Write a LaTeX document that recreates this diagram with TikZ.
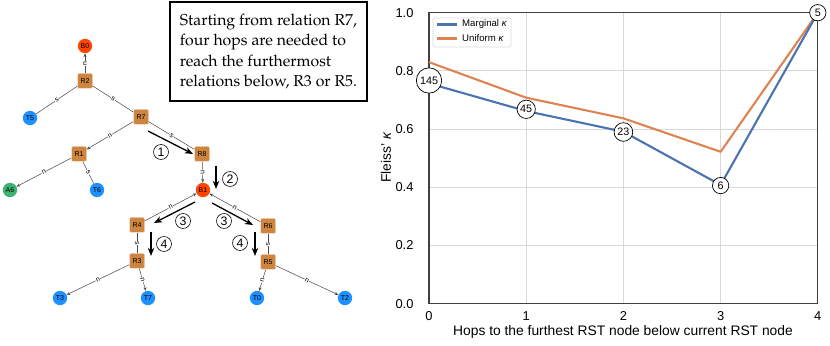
\documentclass[tikz,border=0pt]{standalone}
\usepackage{fontspec}
\setsansfont{Liberation Sans}
\usetikzlibrary{arrows.meta}

\definecolor{relfill}{HTML}{CD853F}
\definecolor{bfill}{HTML}{FF4500}
\definecolor{tfill}{HTML}{1E90FF}
\definecolor{afill}{HTML}{3CB371}
\definecolor{margblue}{HTML}{4C72B0}
\definecolor{uniforange}{HTML}{DD8452}

\tikzset{
  rel/.style={rectangle, rounded corners=1pt, fill=relfill, draw=white!85!relfill,
    line width=0.4pt, minimum size=4.5mm, inner sep=0pt, font=\sffamily\fontsize{6}{6}\selectfont},
  leaf/.style={circle, minimum size=4.3mm, inner sep=0pt, font=\sffamily\fontsize{6}{6}\selectfont},
  edge/.style={draw=black!70, line width=0.45pt},
  narrow/.style={-{Stealth[length=3.2pt,width=2.6pt]}},
  lab/.style={sloped, fill=white, inner sep=0.4pt, font=\sffamily\fontsize{6}{6}\selectfont},
  hop/.style={line width=1.1pt, -{Stealth[length=7pt,width=5.5pt]}},
  hopnum/.style={circle, draw, line width=0.5pt, minimum size=4.5mm, inner sep=0pt,
    font=\sffamily\fontsize{10.5}{10.5}\selectfont},
  grid/.style={draw=black!15, line width=0.7pt},
  tick/.style={font=\sffamily\fontsize{11}{11}\selectfont, inner sep=0pt},
  count/.style={circle, draw, fill=white, line width=0.6pt, inner sep=0pt,
    font=\sffamily\fontsize{9.2}{9.2}\selectfont},
  series/.style={line width=1.8pt, line join=round}
}

\begin{document}
\begin{tikzpicture}[x=0.3mm, y=-0.3mm]
\useasboundingbox (0,0) rectangle (830,346);

% tree
\node[leaf, fill=bfill] (B0) at (85,46) {B0};
\node[rel] (R2) at (85,81) {R2};
\node[leaf, fill=tfill] (T5) at (30,118) {T5};
\node[rel] (R7) at (141,117) {R7};
\node[rel] (R1) at (79,154) {R1};
\node[rel] (R8) at (202,154) {R8};
\node[leaf, fill=afill] (A6) at (10,190) {A6};
\node[leaf, fill=tfill] (T6) at (97,190) {T6};
\node[leaf, fill=bfill] (B1) at (203,190) {B1};
\node[rel] (R4) at (137,225) {R4};
\node[rel] (R6) at (268,226) {R6};
\node[rel] (R3) at (137,261) {R3};
\node[rel] (R5) at (268,262) {R5};
\node[leaf, fill=tfill] (T3) at (60,298) {T3};
\node[leaf, fill=tfill] (T7) at (148,298) {T7};
\node[leaf, fill=tfill] (T0) at (257,298) {T0};
\node[leaf, fill=tfill] (T2) at (345,298) {T2};

\foreach \a/\b in {R2/B0, R7/R1, R1/A6, R8/B1, R4/B1, R6/B1, R3/T3, R3/T7, R5/T0, R5/T2}
  \draw[edge, narrow] (\a) -- node[lab] {n} (\b);
\foreach \a/\b in {R2/T5, R2/R7, R7/R8, R1/T6, R4/R3, R6/R5}
  \draw[edge] (\a) -- node[lab] {s} (\b);

% hops
\coordinate (h1a) at (148,131); \coordinate (h1b) at (193,154);
\coordinate (h2a) at (216,166); \coordinate (h2b) at (216,189);
\coordinate (h3a) at (195,202); \coordinate (h3b) at (154,223);
\coordinate (h3c) at (212,203); \coordinate (h3d) at (253,225);
\coordinate (h4a) at (151,232); \coordinate (h4b) at (151,256);
\coordinate (h4c) at (255,232); \coordinate (h4d) at (255,256);
\draw[hop] (h1a) -- (h1b);
\draw[hop] (h2a) -- (h2b);
\draw[hop] (h3a) -- (h3b);
\draw[hop] (h3c) -- (h3d);
\draw[hop] (h4a) -- (h4b);
\draw[hop] (h4c) -- (h4d);
\node[hopnum] (n1) at (161,152) {1};
\node[hopnum] (n2) at (230,179) {2};
\node[hopnum] (n3a) at (183,221) {3};
\node[hopnum] (n3b) at (224,221) {3};
\node[hopnum] (n4a) at (164,244) {4};
\node[hopnum] (n4b) at (240,243) {4};

\node[draw, line width=0.9pt, minimum width=59.1mm, minimum height=29.7mm, align=left,
  font=\fontencoding{T1}\fontfamily{ppl}\fontsize{13.5}{17.5}\selectfont] (note) at (268.5,51.5)
  {Starting from relation R7,\\four hops are needed to\\reach the furthermost\\relations below, R3 or R5.};

% chart
\begin{scope}[xshift=128.7mm, yshift=-91.11mm, x=29.16mm, y=87.3mm]
\foreach \i in {1,2,3}
  \draw[grid] (\i,0) -- (\i,1);
\foreach \v in {0.2,0.4,0.6,0.8}
  \draw[grid] (0,\v) -- (4,\v);
\draw[line width=0.9pt, draw=black!75] (0,0) rectangle (4,1);
\foreach \i in {0,...,4}
  \node[tick, anchor=north] (xt\i) at ([yshift=-2.2mm]\i,0) {\i};
\foreach \v/\n in {0.0/0, 0.2/2, 0.4/4, 0.6/6, 0.8/8, 1.0/10}
  \node[tick, anchor=east] (yt\n) at ([xshift=-4.6mm]0,\v) {\v};
\draw[uniforange, series] (0,0.830) -- (1,0.708) -- (2,0.637) -- (3,0.522) -- (4,1.0);
\draw[margblue, series] (0,0.757) -- (1,0.662) -- (2,0.591) -- (3,0.408) -- (4,1.0);
\node[count, minimum size=7.6mm] (c0) at (0,0.767) {145};
\node[count, minimum size=5.5mm] (c1) at (1,0.668) {45};
\node[count, minimum size=5.6mm] (c2) at (2,0.590) {23};
\node[count, minimum size=4.9mm] (c3) at (3,0.406) {6};
\node[count, minimum size=4.9mm] (c4) at (4,1.0) {5};
\end{scope}

% legend
\draw[draw=black!15, fill=white, rounded corners=1pt, line width=0.5pt] (433,18) rectangle (511,47);
\draw[margblue, line width=1.8pt] (437,24.5) -- (457,24.5);
\draw[uniforange, line width=1.8pt] (437,38.5) -- (457,38.5);
\node[anchor=west, inner sep=0pt, font=\sffamily\fontsize{8.2}{8.2}\selectfont] (lm) at (462,24.5) {Marginal {\itshape κ}};
\node[anchor=west, inner sep=0pt, font=\sffamily\fontsize{8.2}{8.2}\selectfont] (lu) at (462,38.5) {Uniform {\itshape κ}};

% axis labels
\node[font=\sffamily\fontsize{11.8}{11.8}\selectfont] (xlab) at (623,332) {Hops to the furthest RST node below current RST node};
\node[rotate=90, font=\sffamily\fontsize{11.8}{11.8}\selectfont] (ylab) at (386,158) {Fleiss' {\itshape κ}};
\end{tikzpicture}
\end{document}
